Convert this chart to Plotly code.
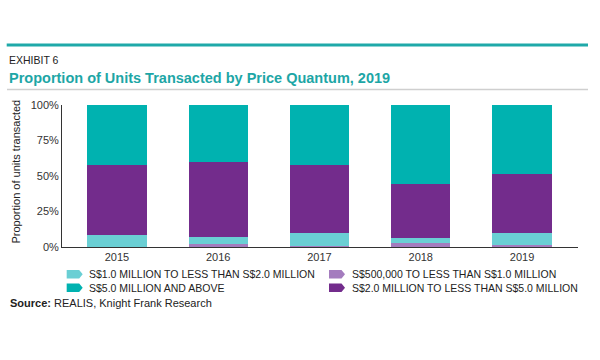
import plotly.graph_objects as go

years = ["2015", "2016", "2017", "2018", "2019"]
y_ticks = [0, 25, 50, 75, 100]
y_tick_labels = ["0%", "25%", "50%", "75%", "100%"]

# Share of units transacted (%), stacked bottom -> top
s500k_1m = [0.0, 1.9, 0.8, 2.8, 1.3]
s1m_2m = [8.3, 5.2, 9.4, 3.6, 8.6]
s2m_5m = [49.6, 53.1, 47.7, 38.0, 41.6]
s5m_up = [42.1, 39.8, 42.1, 55.6, 48.5]

names = {
    "a": "S$500,000 TO LESS THAN S$1.0 MILLION",
    "b": "S$1.0 MILLION TO LESS THAN S$2.0 MILLION",
    "c": "S$2.0 MILLION TO LESS THAN S$5.0 MILLION",
    "d": "S$5.0 MILLION AND ABOVE",
}
colors = {"a": "#A47CBE", "b": "#6ACFD4", "c": "#732C8C", "d": "#00B2B0"}
series = {"a": s500k_1m, "b": s1m_2m, "c": s2m_5m, "d": s5m_up}

FONT = "Liberation Sans, Arial, Helvetica, sans-serif"
W, H = 600, 360
ML, MR, MT, MB = 62, 22, 105, 113
PW, PH = W - ML - MR, H - MT - MB


def px(x):
    return (x - ML) / PW


def py(y):
    return (H - MB - y) / PH


fig = go.Figure()
for k in ["a", "b", "c", "d"]:
    fig.add_trace(go.Bar(
        x=years, y=series[k], name=names[k],
        marker=dict(color=colors[k], line=dict(width=0)),
        width=0.583, showlegend=False,
        hovertemplate="%{x}: %{y}%<extra>" + names[k] + "</extra>",
    ))

shapes = [
    dict(type="line", xref="paper", yref="paper", x0=px(6.7), x1=px(588), y0=py(45), y1=py(45),
         line=dict(color="#1FA9A9", width=3)),
    dict(type="line", xref="paper", yref="paper", x0=px(7), x1=px(588), y0=py(89.5), y1=py(89.5),
         line=dict(color="#CFCFCF", width=1.5)),
]
annotations = [
    dict(text="EXHIBIT 6", xref="paper", yref="paper", x=px(7), y=py(60), xanchor="left", yanchor="middle",
         showarrow=False, font=dict(family=FONT, size=10.5, color="#222")),
    dict(text="<b>Proportion of Units Transacted by Price Quantum, 2019</b>", xref="paper", yref="paper",
         x=px(7), y=py(77.7), xanchor="left", yanchor="middle", showarrow=False,
         font=dict(family=FONT, size=14.5, color="#1DA6A6")),
    dict(text="Proportion of units transacted", xref="paper", yref="paper", x=px(15.5), y=py(172),
         xanchor="center", yanchor="middle", textangle=-90, showarrow=False,
         font=dict(family=FONT, size=11, color="#222")),
    dict(text="<b>Source:</b> REALIS, Knight Frank Research", xref="paper", yref="paper", x=px(8), y=py(302.5),
         xanchor="left", yanchor="middle", showarrow=False, font=dict(family=FONT, size=11, color="#222")),
]

# legend (row-wise: b, a / d, c)
legend_items = [("b", 66.7, 274.3), ("a", 329, 274.3), ("d", 66.7, 287.7), ("c", 329, 287.7)]
for k, x0, yc in legend_items:
    x1 = x0 + 16
    h = 4.2
    path = (f"M{px(x0)},{py(yc - h)} L{px(x1 - 3.5)},{py(yc - h)} L{px(x1)},{py(yc)} "
            f"L{px(x1 - 3.5)},{py(yc + h)} L{px(x0)},{py(yc + h)} Z")
    shapes.append(dict(type="path", xref="paper", yref="paper", path=path,
                       fillcolor=colors[k], line=dict(width=0)))
    annotations.append(dict(text=names[k], xref="paper", yref="paper", x=px(x1 + 4.5), y=py(yc),
                            xanchor="left", yanchor="middle", showarrow=False,
                            font=dict(family=FONT, size=10.5, color="#222")))

fig.update_layout(
    width=W, height=H, barmode="stack",
    margin=dict(l=ML, r=MR, t=MT, b=MB),
    paper_bgcolor="white", plot_bgcolor="white",
    font=dict(family=FONT, size=11, color="#333"),
    shapes=shapes, annotations=annotations,
    showlegend=False,
    xaxis=dict(range=[-0.543, 4.553], showline=True, linecolor="#333", linewidth=1,
               showgrid=False, ticks="", tickfont=dict(size=11, color="#333"), fixedrange=True),
    yaxis=dict(range=[0, 100], tickvals=y_ticks, ticktext=y_tick_labels, showline=True,
               linecolor="#333", linewidth=1, showgrid=False, zeroline=False, ticks="",
               tickfont=dict(size=11, color="#333"), fixedrange=True),
)

fig.write_html("out.html", config={"displayModeBar": False},
               post_script="document.body.style.margin='0';document.body.style.overflow='hidden';")
